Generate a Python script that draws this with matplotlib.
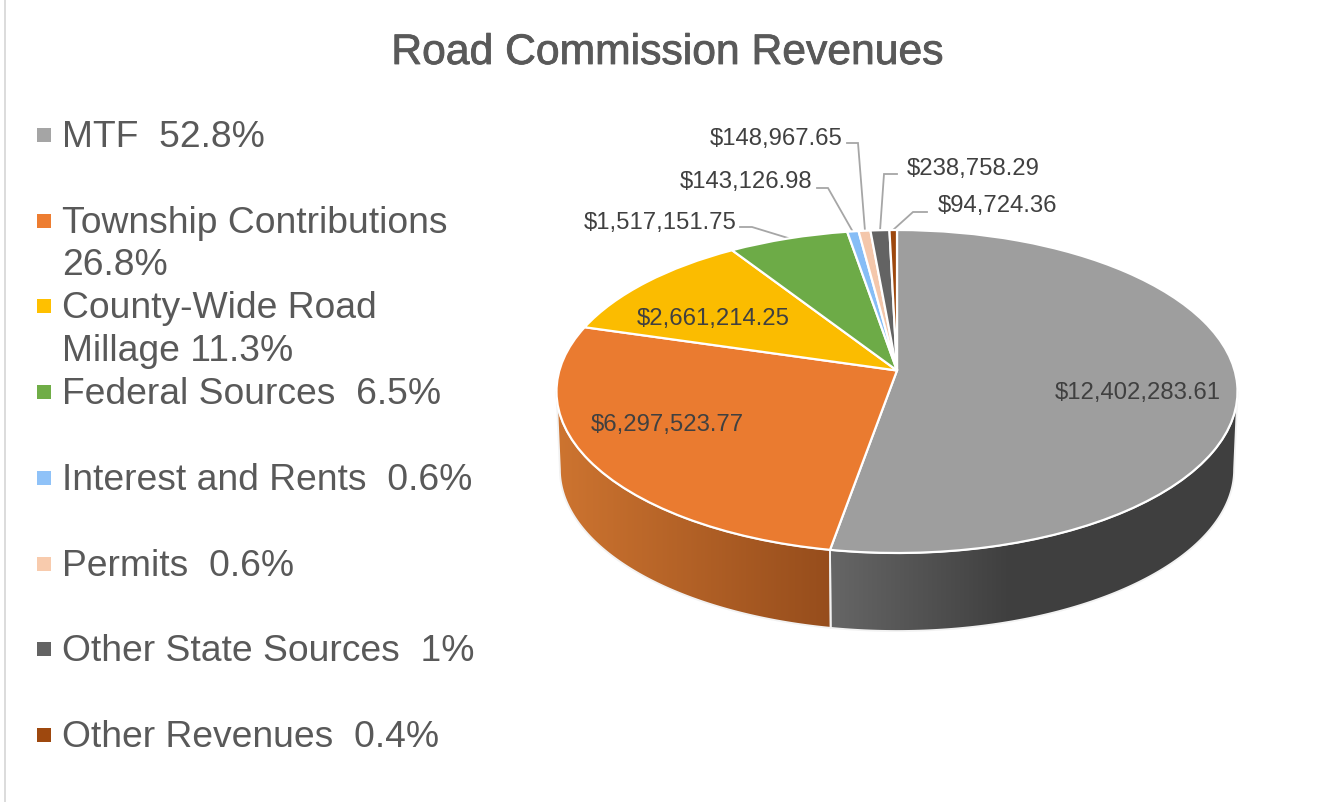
import numpy as np
import matplotlib
matplotlib.use("Agg")
import matplotlib.pyplot as plt
import matplotlib.patheffects as pe
from matplotlib.transforms import Transform
from matplotlib.patches import Polygon, Rectangle
from matplotlib.colors import LinearSegmentedColormap

plt.rcParams['font.family'] = ['Liberation Sans', 'DejaVu Sans']

title = "Road Commission Revenues"
legend_labels = ["MTF  52.8%", "Township Contributions\n26.8%", "County-Wide Road\nMillage 11.3%",
                 "Federal Sources  6.5%", "Interest and Rents  0.6%", "Permits  0.6%",
                 "Other State Sources  1%", "Other Revenues  0.4%"]
revenues = [12402283.61, 6297523.77, 2661214.25, 1517151.75, 143126.98, 148967.65, 238758.29, 94724.36]
slice_colors = ["#9e9e9e", "#ea7b30", "#fbbc00", "#6dab47", "#86bdf6", "#f4c7ab", "#636363", "#9e480e"]
legend_colors = ["#a5a5a5", "#ed7d31", "#ffc000", "#70ad47", "#8fc2f8", "#f8cbad", "#636363", "#9e480e"]
side_left = {0: "#666666", 1: "#cd7430"}
side_right = {0: "#3f3f3f", 1: "#964d1c"}
side_range = {0: (830, 1010), 1: (557, 830)}

# label centre (x, y) in figure pixels, and leader polyline
label_pos = [(1138, 393), (667, 425), (713, 319), (660, 223), (746, 182), (776, 139), (973, 169), (997, 206)]
leaders = [None, None, None,
           [(740, 227), (752, 227), (788, 238)],
           [(817, 188), (828, 188), (853, 232)],
           [(847, 143), (858, 143), (865, 231)],
           [(897, 174), (884, 174), (880, 231)],
           [(927, 212), (913, 212), (893, 230)]]

W, H = 1327, 802
CX, CY, RX, RY, APEX = 897.0, 391.5, 340.5, 161.5, 21.0
DEPTH = 78.0
K = APEX / RY


class Perspective(Transform):
    input_dims = output_dims = 2

    def transform_non_affine(self, values):
        values = np.asarray(values)
        u, v = values[:, 0], values[:, 1]
        w = 1 + K * v
        x = CX + RX * np.sqrt(1 - K ** 2) * u / w
        y = CY - (RY * v + APEX) / w
        return np.column_stack([x, y])


fig = plt.figure(figsize=(W / 100, H / 100), dpi=100, facecolor="white")
ax = fig.add_axes([0, 0, 1, 1])
persp = Perspective()

wedges, _ = ax.pie(revenues, colors=slice_colors, startangle=90, counterclock=False,
                   wedgeprops=dict(edgecolor="white", linewidth=1.6))
ax.set_aspect('auto')
for w in wedges:
    w.set_transform(persp + ax.transData)
    w.set_zorder(3)

# side wall
fracs = np.cumsum([0] + revenues) / np.sum(revenues) * 360
cw_min = np.degrees(np.arccos(-K))
cw_max = 360 - cw_min
for i in range(len(revenues)):
    a, b = max(fracs[i], cw_min), min(fracs[i + 1], cw_max)
    if a >= b:
        continue
    th = np.radians(np.linspace(a, b, 200))
    top = persp.transform_non_affine(np.column_stack([np.sin(th), np.cos(th)]))
    bot = top.copy()
    bot[:, 0] = CX + (bot[:, 0] - CX) * 0.99
    bot[:, 1] += DEPTH
    poly = np.vstack([top, bot[::-1]])
    cmap = LinearSegmentedColormap.from_list("s", [side_left[i], side_right[i]])
    x0, x1 = side_range[i]
    grad = np.clip((np.arange(W) - x0) / (x1 - x0), 0, 1)[None, :]
    im = ax.imshow(grad, cmap=cmap, extent=(0, W, H, 0), aspect='auto', vmin=0, vmax=1, zorder=1)
    clip = Polygon(poly, closed=True, transform=ax.transData, facecolor="none", edgecolor="none")
    ax.add_patch(clip)
    im.set_clip_path(clip)
    ax.add_patch(Polygon(poly, closed=True, facecolor="none", edgecolor="#f2f2f2", linewidth=1.3, zorder=2))

ax.set_xlim(0, W)
ax.set_ylim(H, 0)
ax.set_axis_off()

# frame line at left
ax.add_patch(Rectangle((3.5, 0), 2, H, facecolor="#dcdcdc", edgecolor="none", zorder=0))

ax.text(667, 53, title, ha="center", va="center", fontsize=30.7, color="#595959",
        path_effects=[pe.withStroke(linewidth=0.6, foreground="#595959")])

# legend
for i, lab in enumerate(legend_labels):
    y = 135 + i * 85.7
    ax.plot([43.5], [y], marker="s", ms=9.6, mew=0, color=legend_colors[i], zorder=4)
    ax.text(62, y - 15, lab, ha="left", va="top", fontsize=26.8, color="#595959", linespacing=1.27)

# data labels
for v, (x, y), pts in zip(revenues, label_pos, leaders):
    ax.text(x, y, f"${v:,.2f}", ha="center", va="center", fontsize=17.2, color="#404040", zorder=5)
    if pts:
        xs, ys = zip(*pts)
        ax.plot(xs, ys, color="#a6a6a6", lw=1.3, zorder=2.5, solid_joinstyle="miter")

fig.savefig("out.png", dpi=100)
